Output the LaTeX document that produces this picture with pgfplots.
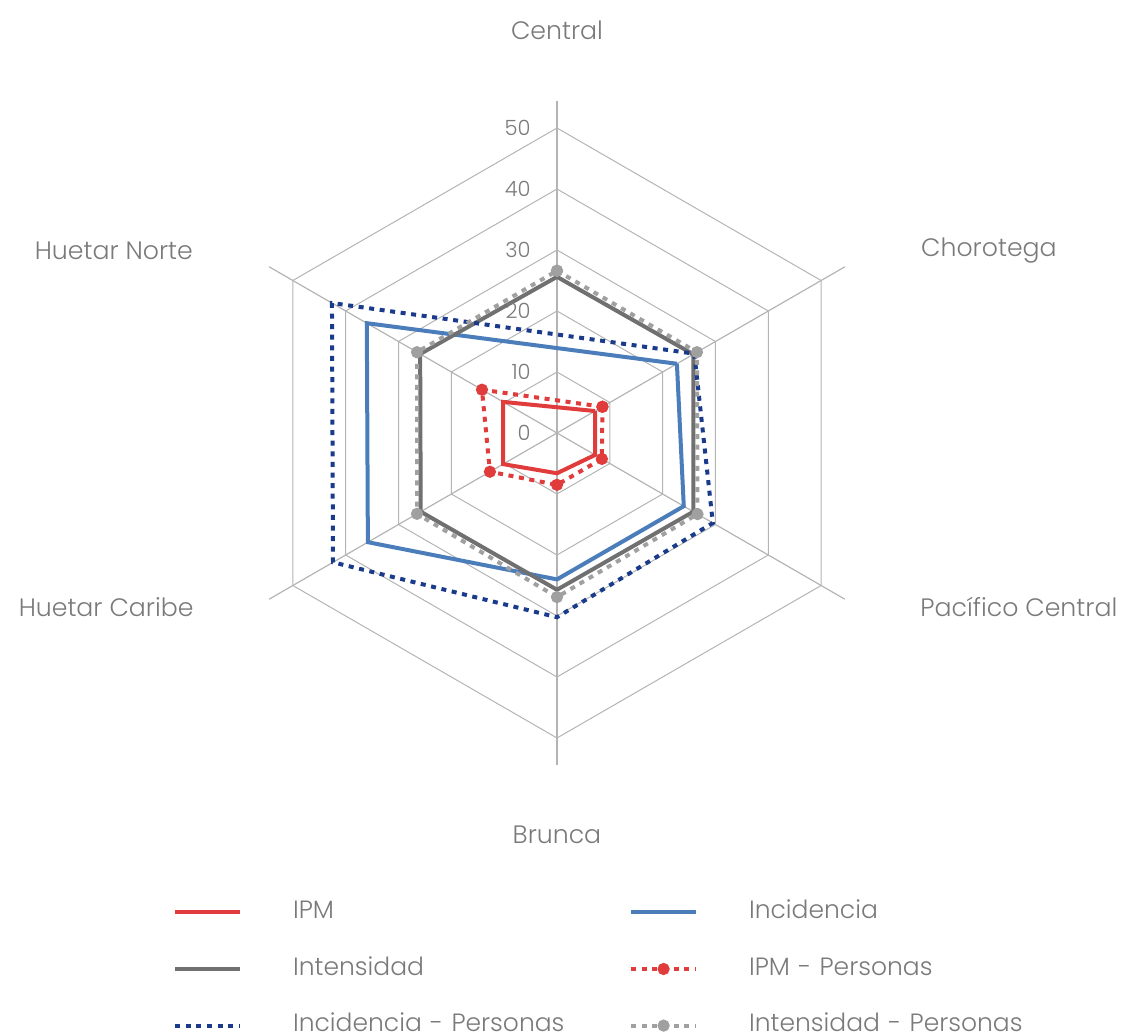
\documentclass[border=0pt]{standalone}
\usepackage{fontspec}
\setmainfont{Poppins}[UprightFont={* Light}]
\usepackage{pgfplots}
\pgfplotsset{compat=1.18}
\usepgfplotslibrary{polar}

\definecolor{ipm}{HTML}{E03C3C}
\definecolor{inc}{HTML}{4A7DBA}
\definecolor{inten}{HTML}{707070}
\definecolor{incp}{HTML}{1A3A8C}
\definecolor{intenp}{HTML}{A0A0A0}
\definecolor{gridc}{HTML}{B4B4B4}
\definecolor{txt}{HTML}{7A7A7A}

\begin{document}
\begin{tikzpicture}
\useasboundingbox (-278.5pt,-301.5pt) rectangle (283pt,216.5pt);
\begin{polaraxis}[
  at={(0,0)}, anchor=center,
  width=366pt, height=366pt, scale only axis,
  ymin=0, ymax=60,
  hide axis,
  clip=false,
  legend columns=2,
  legend cell align=left,
  legend image code/.code={%
    \draw[mark repeat=2,mark phase=2,#1] plot coordinates {(0pt,0pt)(16.25pt,0pt)(32.5pt,0pt)};},
  legend style={
    at={(-0.025,-0.138)}, anchor=north west,
    draw=none, fill=none, inner sep=0pt,
    font=\fontsize{12.5}{14}\selectfont, text=txt,
    row sep=16.3pt,
    nodes={inner sep=0pt, text height=9pt, text depth=3pt},
    /tikz/every odd column/.append style={column sep=25.5pt},
    /tikz/every even column/.append style={nodes={text width=168pt}},
  },
]
% hexagonal grid
\addplot[gridc, line width=0.5pt, forget plot] coordinates {(90,10)(30,10)(-30,10)(-90,10)(210,10)(150,10)(90,10)};
\addplot[gridc, line width=0.5pt, forget plot] coordinates {(90,20)(30,20)(-30,20)(-90,20)(210,20)(150,20)(90,20)};
\addplot[gridc, line width=0.5pt, forget plot] coordinates {(90,30)(30,30)(-30,30)(-90,30)(210,30)(150,30)(90,30)};
\addplot[gridc, line width=0.5pt, forget plot] coordinates {(90,40)(30,40)(-30,40)(-90,40)(210,40)(150,40)(90,40)};
\addplot[gridc, line width=0.5pt, forget plot] coordinates {(90,50)(30,50)(-30,50)(-90,50)(210,50)(150,50)(90,50)};
% radial axes
\addplot[gridc, line width=0.6pt, forget plot] coordinates {(90,0)(90,54.5)};
\addplot[gridc, line width=0.6pt, forget plot] coordinates {(30,0)(30,54.5)};
\addplot[gridc, line width=0.6pt, forget plot] coordinates {(-30,0)(-30,54.5)};
\addplot[gridc, line width=0.6pt, forget plot] coordinates {(-90,0)(-90,54.5)};
\addplot[gridc, line width=0.6pt, forget plot] coordinates {(210,0)(210,54.5)};
\addplot[gridc, line width=0.6pt, forget plot] coordinates {(150,0)(150,54.5)};

% order: Central, Chorotega, Pacifico Central, Brunca, Huetar Caribe, Huetar Norte
% (Central has no value for IPM and Incidencia series: the line joins its neighbours)
\addplot[ipm, line width=2pt, no marks] coordinates {(30,7.2)(-30,7.2)(-90,6.6)(210,10.2)(150,10.2)(30,7.2)};
\addlegendentry{IPM}
\addplot[inc, line width=2pt, no marks] coordinates {(30,22.7)(-30,24.0)(-90,24.0)(210,35.8)(150,36.0)(30,22.7)};
\addlegendentry{Incidencia}
\addplot[inten, line width=2pt, no marks] coordinates {(90,25.6)(30,25.8)(-30,25.8)(-90,25.7)(210,25.8)(150,25.9)(90,25.6)};
\addlegendentry{Intensidad}
\addplot[ipm, line width=2pt, dash pattern=on 2.5pt off 2.8pt, mark=*, mark size=2pt, mark options={solid}] coordinates {(30,8.6)(-30,8.5)(-90,8.5)(210,12.7)(150,14.2)(30,8.6)};
\addlegendentry{IPM - Personas}
\addplot[incp, line width=2pt, dash pattern=on 2.5pt off 2.8pt, no marks] coordinates {(30,26.0)(-30,29.5)(-90,30.2)(210,42.4)(150,42.6)(30,26.0)};
\addlegendentry{Incidencia - Personas}
\addplot[intenp, line width=2pt, dash pattern=on 2.5pt off 2.8pt, mark=*, mark size=2pt, mark options={solid}] coordinates {(90,26.6)(30,26.5)(-30,26.6)(-90,26.9)(210,26.5)(150,26.5)(90,26.6)};
\addlegendentry{Intensidad - Personas}

% radial tick labels
\foreach \r in {0,10,20,30,40,50} {
  \edef\tmp{\noexpand\node[anchor=east, inner sep=0pt, xshift=-13pt, text=txt, font=\noexpand\fontsize{10.5}{12}\noexpand\selectfont] at (axis cs:90,\r) {\r};}
  \tmp
}
% category labels
\begin{scope}[every node/.style={inner sep=0pt, text=txt, font=\fontsize{12.6}{14}\selectfont}]
\node[anchor=center] at (axis cs:90,66) {Central};
\node[anchor=west] at (axis cs:26.6,66.7) {Chorotega};
\node[anchor=west] at (axis cs:-25.6,66) {Pacífico Central};
\node[anchor=center] at (axis cs:-90,65.9) {Brunca};
\node[anchor=east] at (axis cs:205.6,66) {Huetar Caribe};
\node[anchor=east] at (axis cs:153.4,66.7) {Huetar Norte};
\end{scope}
\end{polaraxis}
\end{tikzpicture}
\end{document}
